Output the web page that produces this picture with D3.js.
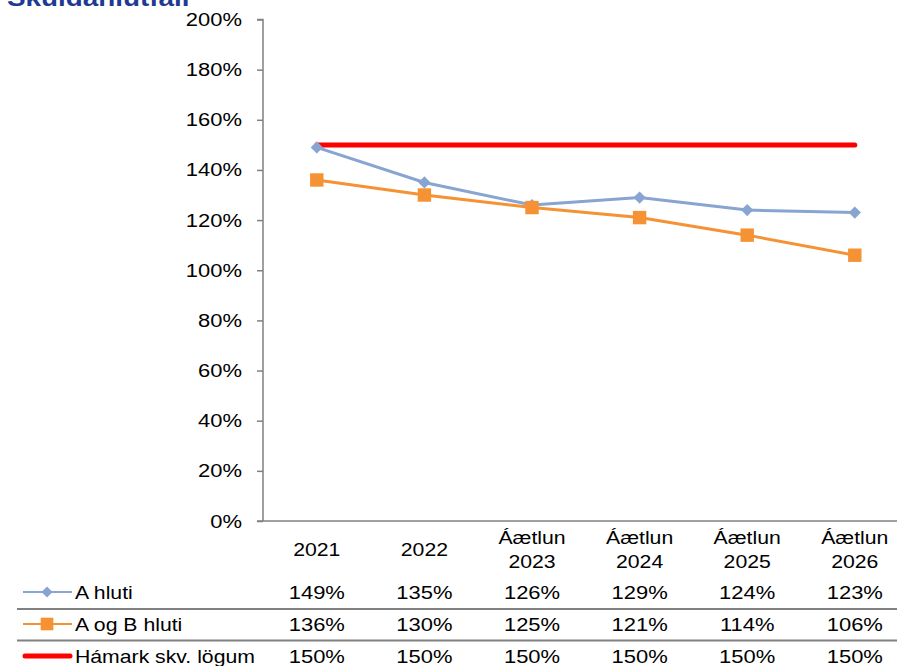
<!DOCTYPE html>
<html><head><meta charset="utf-8">
<script src="https://cdn.jsdelivr.net/npm/d3@7"></script>
<style>body{margin:0;background:#fff}svg{display:block;font-family:"Liberation Sans",Arial,sans-serif}</style>
</head><body><svg id="c" width="897" height="666"></svg>
<script>
const categories = [["2021"],["2022"],["Áætlun","2023"],["Áætlun","2024"],["Áætlun","2025"],["Áætlun","2026"]];
const seriesNames = ["A hluti","A og B hluti","Hámark skv. lögum"];
const aHluti = [149,135,126,129,124,123];
const aogB = [136,130,125,121,114,106];
const hamark = [150,150,150,150,150,150];
const yTicks = [0,20,40,60,80,100,120,140,160,180,200];
const title = "Skuldahlutfall";

const SX = 1.16, FS = 18.3;
const BLUE = "#88A4D1", ORANGE = "#F59234", RED = "#FF0000", AX = "#808080";
const svg = d3.select("#c");
const keys = categories.map((d,i)=>i);
const x = d3.scaleBand().domain(keys).range([263, 908.6]);
const y = d3.scaleLinear().domain([0,200]).range([521, 19.5]);
const cx = i => x(i) + x.bandwidth()/2;

function txt(px, py, s, anchor, opts={}) {
  const sx = opts.sx || SX;
  const t = svg.append("text").attr("transform",`translate(${px},${py}) scale(${sx},1)`)
    .attr("text-anchor",anchor||"start").attr("font-size",opts.size||FS)
    .attr("fill",opts.fill||"#000").text(s);
  if (opts.bold) t.attr("font-weight","bold");
  return t;
}

txt(7, 6, title, "start", {size:24, bold:true, fill:"#1F3A93"});

// y axis
const ya = svg.append("g").attr("transform","translate(263,0)")
  .call(d3.axisLeft(y).tickValues(yTicks).tickFormat("").tickSize(6));
ya.select(".domain").attr("stroke",AX).attr("stroke-width",1.5).attr("d","M-6,19.5H0V521");
ya.selectAll(".tick line").attr("stroke",AX).attr("stroke-width",1.5);
yTicks.forEach(v=>txt(242, y(v)+6.5, v+"%", "end", {sx:1.2}));

// x axis line
svg.append("line").attr("x1",257).attr("x2",897).attr("y1",y(0)).attr("y2",y(0))
  .attr("stroke",AX).attr("stroke-width",1.5);

// category labels
keys.forEach(i=>{
  const lines = categories[i];
  if(lines.length===1) txt(cx(i), 556, lines[0], "middle");
  else lines.forEach((l,j)=>txt(cx(i), 544+j*24, l, "middle"));
});

// lines
const line = d3.line().x((d,i)=>cx(i)).y(d=>y(d));
svg.append("path").datum(hamark).attr("d",line).attr("fill","none").attr("stroke",RED)
  .attr("stroke-width",5).attr("stroke-linecap","round");
svg.append("path").datum(aHluti).attr("d",line).attr("fill","none").attr("stroke",BLUE).attr("stroke-width",3);
svg.append("path").datum(aogB).attr("d",line).attr("fill","none").attr("stroke",ORANGE).attr("stroke-width",3);

svg.selectAll(".dm").data(aHluti).join("path")
  .attr("d", d3.symbol().type(d3.symbolSquare).size(75)())
  .attr("transform",(d,i)=>`translate(${cx(i)},${y(d)}) rotate(45)`).attr("fill",BLUE);
svg.selectAll(".sq").data(aogB).join("path")
  .attr("d", d3.symbol().type(d3.symbolSquare).size(180)())
  .attr("transform",(d,i)=>`translate(${cx(i)},${y(d)})`).attr("fill",ORANGE);

// data table
const rowY = [592, 624, 656];
const allVals = [aHluti, aogB, hamark];
[609, 640.5].forEach(ly=>svg.append("line").attr("x1",17).attr("x2",897).attr("y1",ly).attr("y2",ly)
  .attr("stroke",AX).attr("stroke-width",2));
allVals.forEach((vals,r)=>{
  vals.forEach((v,i)=>txt(cx(i), rowY[r]+6.5, v+"%", "middle", {sx:1.2}));
  txt(75, rowY[r]+6.5, seriesNames[r], "start");
});
// legend keys
svg.append("line").attr("x1",23).attr("x2",72).attr("y1",rowY[0]).attr("y2",rowY[0]).attr("stroke",BLUE).attr("stroke-width",2);
svg.append("path").attr("d",d3.symbol().type(d3.symbolSquare).size(60)()).attr("transform",`translate(47,${rowY[0]}) rotate(45)`).attr("fill",BLUE);
svg.append("line").attr("x1",23).attr("x2",72).attr("y1",rowY[1]).attr("y2",rowY[1]).attr("stroke",ORANGE).attr("stroke-width",2);
svg.append("path").attr("d",d3.symbol().type(d3.symbolSquare).size(160)()).attr("transform",`translate(47,${rowY[1]})`).attr("fill",ORANGE);
svg.append("line").attr("x1",25).attr("x2",70).attr("y1",rowY[2]).attr("y2",rowY[2]).attr("stroke",RED).attr("stroke-width",5).attr("stroke-linecap","round");
</script></body></html>
